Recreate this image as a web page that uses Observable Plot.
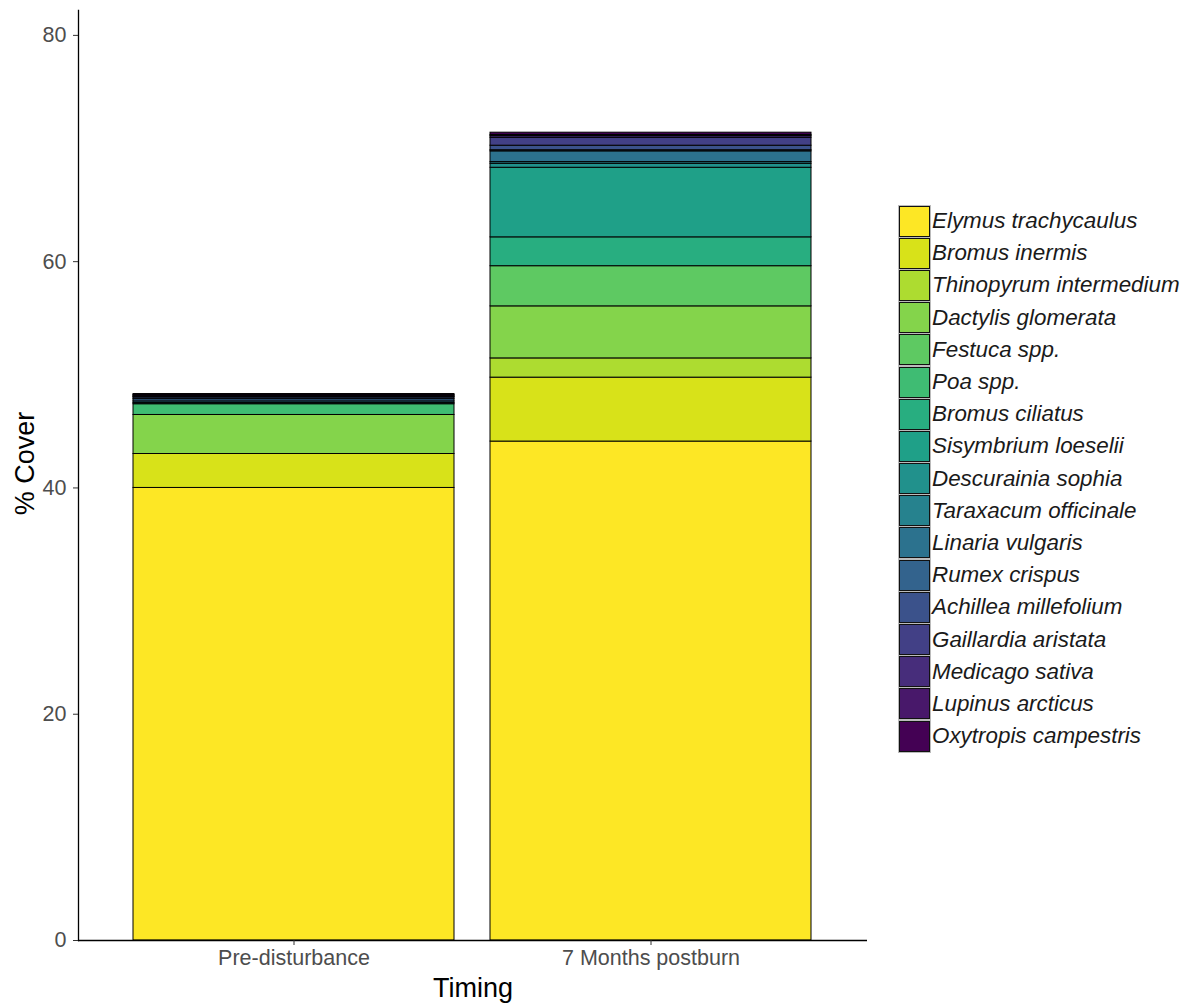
<!DOCTYPE html>
<html>
<head>
<meta charset="utf-8">
<script src="https://cdn.jsdelivr.net/npm/d3@7"></script>
<script src="https://cdn.jsdelivr.net/npm/@observablehq/plot@0.6"></script>
<style>
  html, body { margin: 0; padding: 0; background: #fff; }
  #wrap { position: relative; width: 1183px; height: 1003px; font-family: "Liberation Sans", Arial, sans-serif; }
  #legend { position: absolute; left: 899px; top: 205px; }
  .row { display: flex; align-items: center; height: 32.2px; }
  .sw { width: 29px; height: 29px; border: 1px solid #111; box-shadow: 0 0 0 1px #bbb; box-sizing: content-box; }
  .lab { margin-left: 2px; font-style: italic; font-size: 22.4px; color: #1a1a1a; white-space: nowrap; }
</style>
</head>
<body>
<div id="wrap"></div>
<script>
// ---- Data ----
const timings = ["Pre-disturbance", "7 Months postburn"];
const species = [
  "Elymus trachycaulus", "Bromus inermis", "Thinopyrum intermedium", "Dactylis glomerata",
  "Festuca spp.", "Poa spp.", "Bromus ciliatus", "Sisymbrium loeselii", "Descurainia sophia",
  "Taraxacum officinale", "Linaria vulgaris", "Rumex crispus", "Achillea millefolium",
  "Gaillardia aristata", "Medicago sativa", "Lupinus arcticus", "Oxytropis campestris"
];
const coverPre = [40.0, 3.0, 0, 3.45, 0, 0.95, 0, 0, 0, 0.1, 0.15, 0.2, 0.15, 0.05, 0.1, 0.05, 0.1];
const coverPost = [44.1, 5.65, 1.7, 4.6, 3.55, 0, 2.55, 6.15, 0.35, 0.15, 0.95, 0.1, 0.4, 0.7, 0.15, 0.1, 0.2];
const yTicks = [0, 20, 40, 60, 80];

const palette = species.map((s, i) => d3.interpolateViridis(1 - i / (species.length - 1)));

const rows = [];
species.forEach((s, i) => rows.push({timing: timings[0], species: s, cover: coverPre[i]}));
species.forEach((s, i) => rows.push({timing: timings[1], species: s, cover: coverPost[i]}));

const chart = Plot.plot({
  width: 1183,
  height: 1003,
  marginLeft: 78,
  marginRight: 316,
  marginTop: 10,
  marginBottom: 63,
  style: {fontFamily: "Liberation Sans, Arial, sans-serif", fontSize: "21.5px", color: "#4d4d4d", background: "#fff"},
  x: {domain: timings, paddingInner: 0.1, paddingOuter: 0.155, label: null},
  y: {domain: [0, 82.2], label: null},
  color: {domain: species, range: palette},
  marks: [
    Plot.barY(rows, {x: "timing", y: "cover", fill: "species", stroke: "#000", strokeWidth: 1, order: null}),
    Plot.frame({anchor: "left", stroke: "#000", strokeWidth: 1.3}),
    Plot.ruleY([0], {stroke: "#000", strokeWidth: 1.3}),
    Plot.axisY({ticks: yTicks, tickSize: 5, tickPadding: 7, stroke: "#333", fill: "#4d4d4d", fontSize: 21.5, label: null}),
    Plot.axisX({tickSize: 5, tickPadding: 4, stroke: "#333", fill: "#4d4d4d", fontSize: 21.5, label: null}),
    Plot.text(["% Cover"], {frameAnchor: "left", textAnchor: "middle", dx: -53, dy: -12, rotate: -90, fontSize: 27, fill: "#000"}),
    Plot.text(["Timing"], {frameAnchor: "bottom", lineAnchor: "middle", dy: 48, fontSize: 27, fill: "#000"})
  ]
});

const wrap = document.getElementById("wrap");
wrap.appendChild(chart);

const legend = document.createElement("div");
legend.id = "legend";
species.forEach((s, i) => {
  const r = document.createElement("div");
  r.className = "row";
  const sw = document.createElement("div");
  sw.className = "sw";
  sw.style.background = palette[i];
  const lb = document.createElement("span");
  lb.className = "lab";
  lb.textContent = s;
  r.appendChild(sw); r.appendChild(lb);
  legend.appendChild(r);
});
wrap.appendChild(legend);
</script>
</body>
</html>
